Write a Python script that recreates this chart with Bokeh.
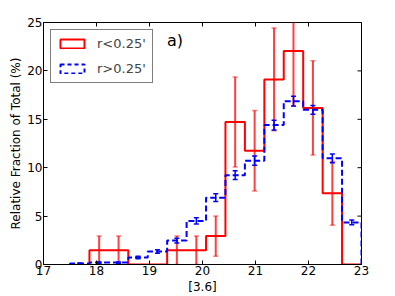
import numpy as np
from bokeh.plotting import figure
from bokeh.models import (Range1d, FixedTicker, Legend, LegendItem,
                          Whisker, TeeHead, ColumnDataSource, Label)
from bokeh.embed import file_html
from bokeh.resources import INLINE

# ---- data ----
bin_edges = [17.5, 17.867, 18.233, 18.6, 18.967, 19.333, 19.7, 20.067, 20.433,
             20.8, 21.167, 21.533, 21.9, 22.267, 22.633, 23.0]
# r<0.25' : bins start at 17.867 (14 bins)
red_frac = [1.47, 1.47, 0.0, 0.0, 1.47, 1.47, 2.94, 14.71, 11.76, 19.12, 22.06, 16.18, 7.35, 0.0]
red_err = [1.47, 1.47, 0.0, 0.0, 1.47, 1.47, 2.08, 4.65, 4.16, 5.30, 5.70, 4.88, 3.29, 0.0]
# r>0.25' : bins start at 17.5 (15 bins)
blue_frac = [0.10, 0.20, 0.20, 0.72, 1.34, 2.47, 4.50, 6.90, 9.23, 10.73, 14.40, 16.87, 15.98, 10.97, 4.35]
blue_err = [0.05, 0.07, 0.07, 0.13, 0.18, 0.25, 0.32, 0.40, 0.45, 0.48, 0.50, 0.50, 0.45, 0.45, 0.25]
x_ticks = [17, 18, 19, 20, 21, 22, 23]
y_ticks = [0, 5, 10, 15, 20, 25]
labels = ["r<0.25'", "r>0.25'"]
x_lim = (17, 23)
y_lim = (0, 25)

FONT = "DejaVu Sans"

p = figure(width=395, height=296, x_range=Range1d(*x_lim), y_range=Range1d(*y_lim),
           output_backend="svg", toolbar_location=None,
           min_border_left=43, min_border_right=34, min_border_top=22, min_border_bottom=31,
           x_axis_label="[3.6]", y_axis_label="Relative Fraction of Total (%)")
p.grid.visible = False
p.outline_line_color = "black"
p.outline_line_width = 1
p.background_fill_color = "white"
p.border_fill_color = "white"

for ax in (p.xaxis[0], p.yaxis[0]):
    ax.major_tick_in = 4
    ax.major_tick_out = 0
    ax.minor_tick_line_color = None
    ax.major_label_text_font = FONT
    ax.major_label_text_font_size = "12px"
    ax.major_label_text_color = "black"
    ax.axis_label_text_font = FONT
    ax.axis_label_text_font_size = "12px"
    ax.axis_label_text_font_style = "normal"
    ax.axis_label_text_color = "black"
    ax.axis_line_color = "black"
    ax.major_tick_line_color = "black"
    ax.major_label_standoff = 1
p.xaxis[0].ticker = FixedTicker(ticks=x_ticks)
p.yaxis[0].ticker = FixedTicker(ticks=y_ticks)
p.xaxis[0].axis_label_standoff = 2
p.yaxis[0].axis_label_standoff = 1

# inward tick marks on the top and right edges of the frame
p.scatter(x=x_ticks, y=[y_lim[1]] * len(x_ticks), marker="dash", angle=np.pi / 2,
          size=8, line_color="black", line_width=1)
p.scatter(x=[x_lim[1]] * len(y_ticks), y=y_ticks, marker="dash",
          size=8, line_color="black", line_width=1)


def step_path(edges, vals):
    xs = np.repeat(np.asarray(edges, dtype=float), 2)
    ys = np.concatenate([[0.0], np.repeat(np.asarray(vals, dtype=float), 2), [0.0]])
    return xs, ys


red_edges = bin_edges[1:]
blue_edges = bin_edges

rx, ry = step_path(red_edges, red_frac)
bx, by = step_path(blue_edges, blue_frac)

p.line(rx, ry, line_color="red", line_width=2)

centers_r = [(a + b) / 2 for a, b in zip(red_edges[:-1], red_edges[1:])]
rsel = [i for i, v in enumerate(red_frac) if v > 0]
red_src = ColumnDataSource(dict(
    x=[centers_r[i] for i in rsel],
    lo=[red_frac[i] - red_err[i] for i in rsel],
    hi=[red_frac[i] + red_err[i] for i in rsel]))
p.add_layout(Whisker(source=red_src, base="x", lower="lo", upper="hi", dimension="height",
                     line_color="red", line_width=2, line_alpha=0.75,
                     upper_head=TeeHead(size=5, line_color="red", line_alpha=0.5, line_width=1.5),
                     lower_head=TeeHead(size=5, line_color="red", line_alpha=0.5, line_width=1.5)))

p.line(bx, by, line_color="blue", line_width=2, line_dash="6 3")

centers_b = [(a + b) / 2 for a, b in zip(blue_edges[:-1], blue_edges[1:])]
blue_src = ColumnDataSource(dict(
    x=centers_b,
    lo=[v - e for v, e in zip(blue_frac, blue_err)],
    hi=[v + e for v, e in zip(blue_frac, blue_err)]))
p.add_layout(Whisker(source=blue_src, base="x", lower="lo", upper="hi", dimension="height",
                     line_color="blue", line_width=1.5,
                     upper_head=TeeHead(size=5, line_color="blue", line_width=1.5),
                     lower_head=TeeHead(size=5, line_color="blue", line_width=1.5)))

# legend proxies (outline rectangles, not drawn in the plot area)
nan = [float("nan")]
r_proxy = p.quad(left=nan, right=nan, top=nan, bottom=nan, fill_alpha=0,
                 line_color="red", line_width=2)
b_proxy = p.quad(left=nan, right=nan, top=nan, bottom=nan, fill_alpha=0,
                 line_color="blue", line_width=2, line_dash="4 3")

legend = Legend(items=[LegendItem(label=labels[0], renderers=[r_proxy]),
                       LegendItem(label=labels[1], renderers=[b_proxy])],
                location="top_left", margin=7, padding=6, spacing=10,
                glyph_width=30, glyph_height=11, label_height=12, label_standoff=10,
                label_text_font=FONT, label_text_font_size="13px",
                border_line_color="black", border_line_width=1,
                background_fill_color="white", background_fill_alpha=1)
p.add_layout(legend)

p.add_layout(Label(x=19.33, y=23.1, text="a)", text_font=FONT, text_font_size="16px",
                   text_baseline="middle", text_align="left", text_color="black"))

open("out.html", "w").write(file_html(p, INLINE))
